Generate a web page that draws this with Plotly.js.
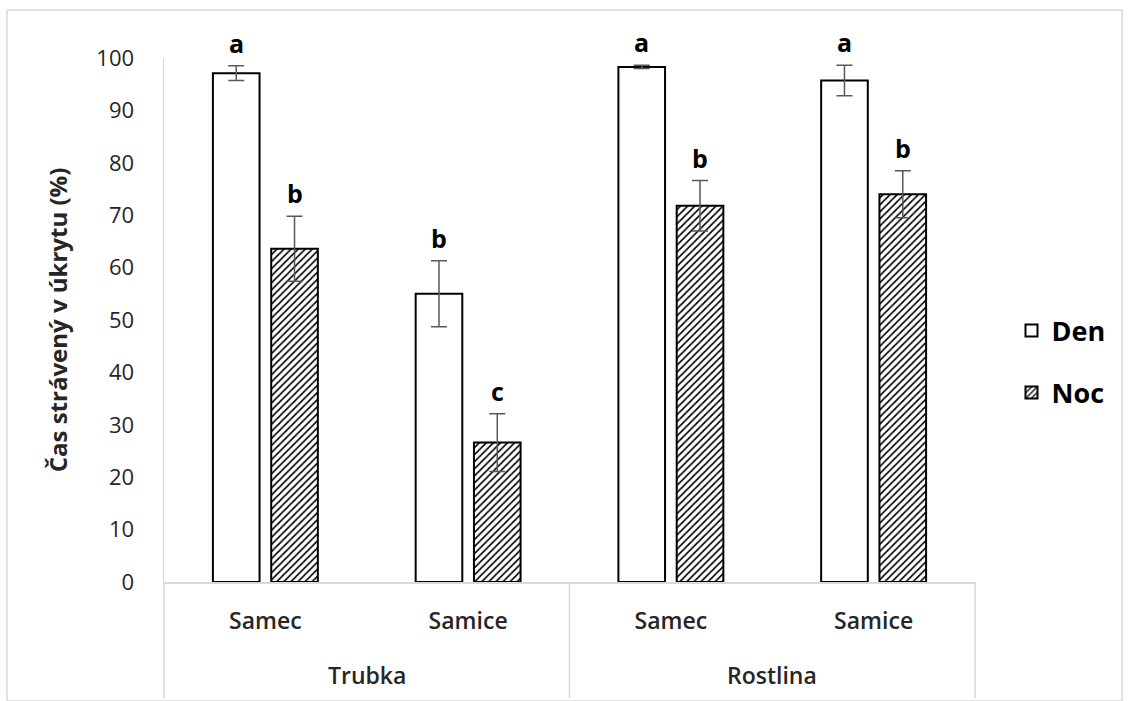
<!DOCTYPE html>
<html>
<head>
<meta charset="utf-8">
<script src="https://cdn.plot.ly/plotly-3.0.1.min.js"></script>
<style>
  html, body { margin: 0; padding: 0; background: #ffffff; }
  #chart { width: 1129px; height: 701px; }
</style>
</head>
<body>
<div id="chart"></div>
<script>
// Shelter type (outer level) and sex (inner level) for each bar pair
const groups = ['Trubka', 'Trubka', 'Rostlina', 'Rostlina'];
const sexes = ['Samec', 'Samice', 'Samec', 'Samice'];

// Time spent in shelter (%) by day and by night, with error bars
const denValues = [97.1, 55.0, 98.3, 95.7];
const denErrors = [1.4, 6.3, 0.3, 2.9];
const nocValues = [63.6, 26.6, 71.8, 74.0];
const nocErrors = [6.2, 5.5, 4.8, 4.5];

// Significance letters above each bar
const denLetters = ['a', 'b', 'a', 'a'];
const nocLetters = ['b', 'c', 'b', 'b'];

const yTicks = [0, 10, 20, 30, 40, 50, 60, 70, 80, 90, 100];

const FONT = 'Open Sans, Noto Sans, sans-serif';
const BARGAP = 0.425;
const BARGROUPGAP = 0.2;
const GRID_GREY = '#d9d9d9';

const keys = groups.map((g, i) => g + ' | ' + sexes[i]);

const errStyle = { type: 'data', visible: true, color: '#595959', thickness: 1.5, width: 8 };

const den = {
  type: 'bar', name: 'Den', legendgroup: 'den',
  x: keys, y: denValues,
  error_y: Object.assign({ array: denErrors }, errStyle),
  marker: { color: '#ffffff', line: { color: '#000000', width: 2 } },
  hoverinfo: 'skip'
};

const noc = {
  type: 'bar', name: 'Noc', legendgroup: 'noc',
  x: keys, y: nocValues,
  error_y: Object.assign({ array: nocErrors }, errStyle),
  marker: {
    color: '#ffffff',
    line: { color: '#000000', width: 2 },
    pattern: { shape: '/', fgcolor: '#000000', bgcolor: '#ffffff', size: 5, solidity: 0.33 }
  },
  hoverinfo: 'skip'
};

// Horizontal offset of each bar within its pair (category units)
const half = (1 - BARGAP) / 4;

const letterFont = { family: FONT, size: 25, color: '#000000', weight: 'bold' };
const annotations = [];
keys.forEach((k, i) => {
  annotations.push({
    xref: 'x', yref: 'y', x: i - half, y: denValues[i] + denErrors[i],
    text: denLetters[i], showarrow: false, yanchor: 'bottom', yshift: 4,
    font: letterFont
  });
  annotations.push({
    xref: 'x', yref: 'y', x: i + half, y: nocValues[i] + nocErrors[i],
    text: nocLetters[i], showarrow: false, yanchor: 'bottom', yshift: 4,
    font: letterFont
  });
});

// Outer category labels, centred under each pair of sexes
const outer = [];
groups.forEach((g, i) => {
  if (!outer.length || outer[outer.length - 1].name !== g) outer.push({ name: g, first: i, last: i });
  else outer[outer.length - 1].last = i;
});
outer.forEach(o => {
  annotations.push({
    xref: 'x', yref: 'paper', x: (o.first + o.last) / 2, y: -0.178,
    text: o.name, showarrow: false, yanchor: 'middle',
    font: { family: FONT, size: 23, color: '#262626', weight: 600 }
  });
});

// Divider lines boxing the category labels, plus the outer chart frame
const shapes = [];
const nCat = keys.length;
const boundaries = [0];
outer.forEach(o => boundaries.push((o.last + 1) / nCat));
boundaries.forEach(b => {
  shapes.push({
    type: 'line', xref: 'paper', yref: 'paper', x0: b, x1: b, y0: 0, y1: -0.222,
    line: { color: GRID_GREY, width: 1.5 }
  });
});
shapes.push({
  type: 'rect', xref: 'paper', yref: 'paper',
  x0: -0.1936, x1: 1.1815, y0: -0.227, y1: 1.0916,
  line: { color: GRID_GREY, width: 1.5 }, fillcolor: 'rgba(0,0,0,0)'
});

const layout = {
  width: 1129, height: 701,
  margin: { l: 164, r: 154, t: 58, b: 119 },
  paper_bgcolor: '#ffffff', plot_bgcolor: '#ffffff',
  barmode: 'group', bargap: BARGAP, bargroupgap: BARGROUPGAP,
  font: { family: FONT, color: '#333333' },
  xaxis: {
    type: 'category',
    tickvals: keys, ticktext: sexes,
    range: [-0.5, nCat - 0.5],
    showline: true, linecolor: GRID_GREY, linewidth: 1.5,
    ticks: '', ticklabelstandoff: 18,
    tickfont: { family: FONT, size: 23, color: '#262626', weight: 600 },
    showgrid: false, zeroline: false, fixedrange: true
  },
  yaxis: {
    range: [0, 100],
    tickvals: yTicks,
    showline: true, linecolor: GRID_GREY, linewidth: 1.5,
    ticks: '', ticklabelstandoff: 24,
    tickfont: { family: FONT, size: 22, color: '#262626' },
    showgrid: false, zeroline: false, fixedrange: true,
    title: {
      text: 'Čas strávený v úkrytu (%)',
      font: { family: FONT, size: 24, color: '#262626', weight: 'bold' },
      standoff: 22
    }
  },
  showlegend: true,
  legend: {
    x: 1.045, xanchor: 'left', y: 0.42, yanchor: 'middle',
    traceorder: 'grouped', tracegroupgap: 24,
    font: { family: FONT, size: 27, color: '#000000', weight: 'bold' },
    bgcolor: 'rgba(0,0,0,0)'
  },
  annotations: annotations,
  shapes: shapes
};

Plotly.newPlot('chart', [den, noc], layout, { displayModeBar: false, staticPlot: true });
</script>
</body>
</html>
